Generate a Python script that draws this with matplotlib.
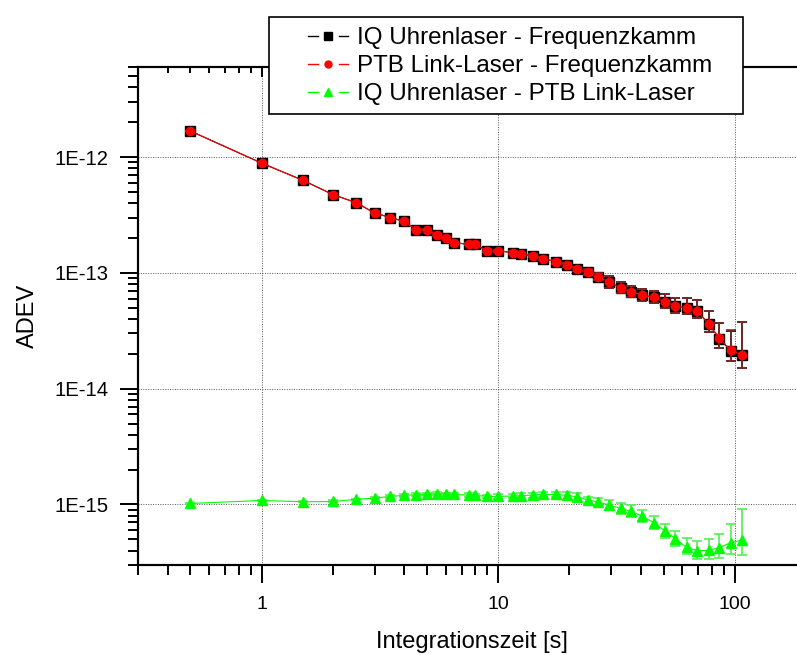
import numpy as np
import matplotlib
matplotlib.use("Agg")
import matplotlib.pyplot as plt
from matplotlib.lines import Line2D
from matplotlib.patches import Rectangle
from matplotlib.legend_handler import HandlerBase
from matplotlib.ticker import FixedLocator, FuncFormatter, LogLocator, NullFormatter

plt.rcParams['font.family'] = ['Liberation Sans', 'DejaVu Sans']

# Integration times (s)
tau = [0.5, 1, 1.5, 2, 2.5, 3, 3.5, 4, 4.5, 5, 5.5, 6, 6.5, 7.5, 8, 9, 10,
       11.5, 12.5, 14, 15.5, 17.5, 19.5, 21.5, 24, 26.5, 29.5, 33, 36.5, 40.5,
       45.5, 50.5, 56, 62.5, 69.5, 77.5, 86, 96, 107]

# IQ clock laser vs. frequency comb (units of 1e-13)
iq_comb = [16.8, 8.87, 6.28, 4.75, 4.05, 3.30, 3.00, 2.79, 2.36, 2.36, 2.13, 2.00,
           1.83, 1.76, 1.76, 1.55, 1.55, 1.50, 1.45, 1.40, 1.33, 1.25, 1.17, 1.08,
           1.01, 0.923, 0.830, 0.737, 0.689, 0.641, 0.615, 0.564, 0.518, 0.497,
           0.465, 0.363, 0.271, 0.213, 0.196]
iq_comb_hi = [0.15, 0.08, 0.06, 0.05, 0.045, 0.04, 0.04, 0.04, 0.035, 0.035, 0.035,
              0.035, 0.035, 0.035, 0.035, 0.035, 0.035, 0.04, 0.04, 0.045, 0.045,
              0.05, 0.05, 0.055, 0.06, 0.065, 0.112, 0.094, 0.077, 0.092, 0.088,
              0.098, 0.090, 0.110, 0.122, 0.108, 0.095, 0.104, 0.177]
iq_comb_lo = [0.14, 0.075, 0.055, 0.045, 0.04, 0.035, 0.035, 0.035, 0.03, 0.03, 0.03,
              0.03, 0.03, 0.03, 0.03, 0.03, 0.03, 0.035, 0.035, 0.04, 0.04, 0.045,
              0.045, 0.05, 0.055, 0.06, 0.084, 0.069, 0.065, 0.072, 0.066, 0.064,
              0.068, 0.056, 0.055, 0.052, 0.048, 0.041, 0.046]

# PTB link laser vs. frequency comb (units of 1e-13)
ptb_comb = [16.8, 8.87, 6.28, 4.75, 4.05, 3.30, 3.00, 2.79, 2.36, 2.36, 2.13, 2.00,
            1.83, 1.76, 1.76, 1.55, 1.55, 1.50, 1.45, 1.40, 1.33, 1.25, 1.17, 1.08,
            1.01, 0.923, 0.830, 0.737, 0.689, 0.641, 0.615, 0.564, 0.518, 0.497,
            0.465, 0.363, 0.273, 0.215, 0.196]
ptb_comb_hi = [0.15, 0.08, 0.06, 0.05, 0.045, 0.04, 0.04, 0.04, 0.035, 0.035, 0.035,
               0.035, 0.035, 0.035, 0.035, 0.035, 0.035, 0.04, 0.04, 0.045, 0.045,
               0.05, 0.05, 0.055, 0.06, 0.065, 0.112, 0.094, 0.077, 0.092, 0.088,
               0.098, 0.090, 0.110, 0.122, 0.108, 0.095, 0.104, 0.177]
ptb_comb_lo = [0.14, 0.075, 0.055, 0.045, 0.04, 0.035, 0.035, 0.035, 0.03, 0.03, 0.03,
               0.03, 0.03, 0.03, 0.03, 0.03, 0.03, 0.035, 0.035, 0.04, 0.04, 0.045,
               0.045, 0.05, 0.055, 0.06, 0.084, 0.069, 0.065, 0.072, 0.066, 0.064,
               0.068, 0.056, 0.055, 0.052, 0.048, 0.041, 0.046]

# IQ clock laser vs. PTB link laser (units of 1e-15)
iq_ptb = [1.02, 1.083, 1.055, 1.062, 1.105, 1.137, 1.173, 1.197, 1.214, 1.23, 1.239,
          1.23, 1.22, 1.206, 1.197, 1.173, 1.173, 1.183, 1.19, 1.206, 1.22, 1.22,
          1.197, 1.166, 1.092, 1.049, 0.988, 0.923, 0.870, 0.793, 0.694, 0.595,
          0.507, 0.427, 0.399, 0.402, 0.424, 0.468, 0.491]
iq_ptb_hi = [0.01, 0.015, 0.015, 0.02, 0.02, 0.025, 0.025, 0.03, 0.03, 0.03, 0.035,
             0.035, 0.04, 0.04, 0.045, 0.045, 0.05, 0.055, 0.055, 0.06, 0.065, 0.07,
             0.074, 0.079, 0.074, 0.094, 0.104, 0.112, 0.110, 0.101, 0.104, 0.089,
             0.084, 0.084, 0.085, 0.106, 0.137, 0.206, 0.427]
iq_ptb_lo = [0.01, 0.015, 0.015, 0.02, 0.02, 0.025, 0.025, 0.03, 0.03, 0.03, 0.035,
             0.035, 0.04, 0.04, 0.045, 0.045, 0.05, 0.055, 0.055, 0.06, 0.065, 0.07,
             0.098, 0.111, 0.089, 0.086, 0.094, 0.100, 0.094, 0.094, 0.082, 0.081,
             0.069, 0.056, 0.061, 0.061, 0.079, 0.097, 0.125]

labels = ["IQ Uhrenlaser - Frequenzkamm",
          "PTB Link-Laser - Frequenzkamm",
          "IQ Uhrenlaser - PTB Link-Laser"]

s13 = 1e-13
s15 = 1e-15


class GappedLineHandler(HandlerBase):
    """Legend glyph: short line, marker, short line, with gaps between."""

    def create_artists(self, legend, orig_handle, xdescent, ydescent,
                       width, height, fontsize, trans):
        x0 = -xdescent
        y = height / 2.0 - ydescent
        color = orig_handle.get_color()
        lw = orig_handle.get_linewidth()
        left = Line2D([x0, x0 + 0.24 * width], [y, y], color=color, lw=lw)
        right = Line2D([x0 + 0.78 * width, x0 + width], [y, y], color=color, lw=lw)
        mark = Line2D([x0 + 0.5 * width], [y], linestyle='none',
                      marker=orig_handle.get_marker(),
                      ms=orig_handle.get_markersize(), color=color, mec=color)
        for a in (left, right, mark):
            a.set_transform(trans)
        return [left, mark, right]


fig = plt.figure(figsize=(7.97, 6.55), dpi=100)
ax = fig.add_axes([0.1731, 0.1374, 0.8382, 0.7603])
ax.set_xscale('log')
ax.set_yscale('log')

GREEN = '#00ff00'
RED = '#ff0000'

ax.errorbar(tau, np.array(iq_comb) * s13,
            yerr=[np.array(iq_comb_lo) * s13, np.array(iq_comb_hi) * s13],
            fmt='s-', color='black', ms=7.5, lw=0.8, ecolor='black',
            elinewidth=1.2, capsize=3.5, capthick=1.2, zorder=3)
ax.errorbar(tau, np.array(ptb_comb) * s13,
            yerr=[np.array(ptb_comb_lo) * s13, np.array(ptb_comb_hi) * s13],
            fmt='o-', color=RED, mec=RED, ms=6, lw=0.8,
            ecolor='#7d2a2a', elinewidth=1.2, capsize=3.5, capthick=1.2, zorder=4)
ax.errorbar(tau, np.array(iq_ptb) * s15,
            yerr=[np.array(iq_ptb_lo) * s15, np.array(iq_ptb_hi) * s15],
            fmt='^-', color=GREEN, mec=GREEN, ms=6.5, lw=0.8,
            ecolor='#55ee55', elinewidth=1.2, capsize=3.5, capthick=1.2, zorder=4)

ax.set_xlim(0.3, 200)
ax.set_ylim(3e-16, 6e-12)

# Tick layout
ax.xaxis.set_major_locator(FixedLocator([1, 10, 100]))
ax.xaxis.set_major_formatter(FuncFormatter(lambda v, _: f"{v:g}"))
ax.xaxis.set_minor_locator(LogLocator(base=10, subs=np.arange(2, 10)))
ax.xaxis.set_minor_formatter(NullFormatter())
ax.yaxis.set_major_locator(FixedLocator([1e-15, 1e-14, 1e-13, 1e-12]))
ax.yaxis.set_major_formatter(FuncFormatter(
    lambda v, _: f"1E{int(round(np.log10(v)))}"))
ax.yaxis.set_minor_locator(LogLocator(base=10, subs=np.arange(2, 10)))
ax.yaxis.set_minor_formatter(NullFormatter())

ax.tick_params(which='major', direction='out', length=13, width=1.4,
               top=False, right=False)
ax.tick_params(axis='x', which='major', pad=9, labelsize=14)
ax.tick_params(axis='y', which='major', pad=8, labelsize=14.6)
ax.tick_params(which='minor', direction='out', length=7, width=1.4,
               top=False, right=False)
for sp in ax.spines.values():
    sp.set_linewidth(1.5)

ax.grid(which='major', linestyle=(0, (1, 1.5)), color='#555555', linewidth=0.7)
ax.set_axisbelow(True)

# Inward ticks along the top edge
ax2 = ax.twiny()
ax2.set_xscale('log')
ax2.set_xlim(ax.get_xlim())
ax2.xaxis.set_major_locator(FixedLocator([1, 10, 100]))
ax2.xaxis.set_minor_locator(LogLocator(base=10, subs=np.arange(2, 10)))
ax2.xaxis.set_major_formatter(NullFormatter())
ax2.xaxis.set_minor_formatter(NullFormatter())
ax2.tick_params(which='major', direction='in', length=7, width=1.4,
                top=True, bottom=False, labeltop=False)
ax2.tick_params(which='minor', direction='in', length=4, width=1.4,
                top=True, bottom=False)
for sp in ax2.spines.values():
    sp.set_linewidth(1.5)

ax.set_xlabel("Integrationszeit [s]", fontsize=17, labelpad=13)
ax.set_ylabel("ADEV", fontsize=17, labelpad=11)

# Legend box drawn as a figure-level frame, entries placed inside it
frame = Rectangle((269 / 797, 1 - 114 / 655), 474 / 797, 97 / 655,
                  transform=fig.transFigure, facecolor='white',
                  edgecolor='black', linewidth=1.2, zorder=4)
fig.patches.append(frame)

handles = [
    Line2D([], [], color='black', marker='s', ms=5.5, lw=1.0),
    Line2D([], [], color=RED, marker='o', ms=5, lw=1.0),
    Line2D([], [], color=GREEN, marker='^', ms=6, lw=1.0),
]
leg = fig.legend(handles, labels, loc='upper left',
                 bbox_to_anchor=(308 / 797, 1 - 27 / 655),
                 bbox_transform=fig.transFigure,
                 borderaxespad=0, borderpad=0, fontsize=17.4, frameon=False,
                 handlelength=1.655, handletextpad=0.37, labelspacing=0.25,
                 handler_map={Line2D: GappedLineHandler()})
leg.set_zorder(5)

fig.savefig("out.png", dpi=100)
